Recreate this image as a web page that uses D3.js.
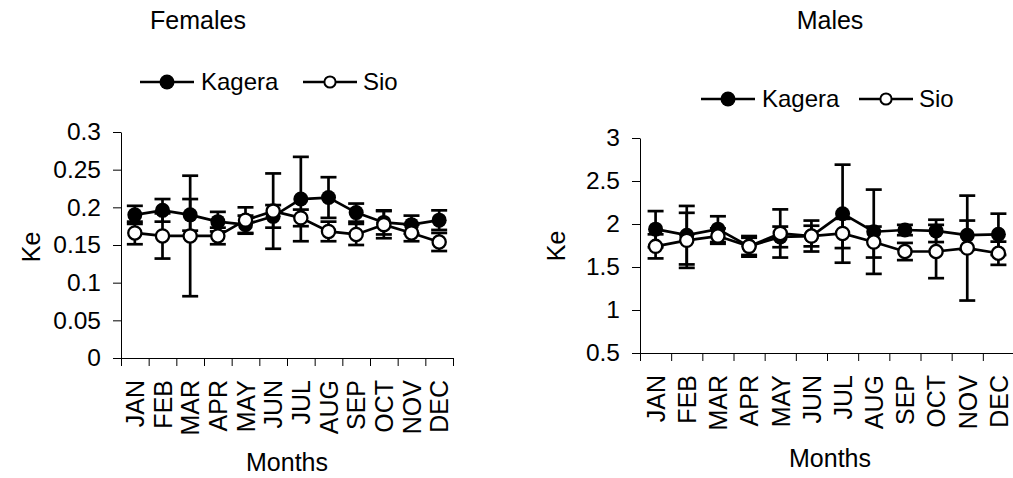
<!DOCTYPE html>
<html>
<head>
<meta charset="utf-8">
<script src="https://cdn.jsdelivr.net/npm/d3@7"></script>
<style>
  html, body { margin: 0; padding: 0; background: #fff; }
  svg { display: block; font-family: "Liberation Sans", Arial, sans-serif; }
</style>
</head>
<body>
<svg id="chart" width="1013" height="478"></svg>
<script>
const months = ["JAN","FEB","MAR","APR","MAY","JUN","JUL","AUG","SEP","OCT","NOV","DEC"];
const seriesNames = ["Kagera","Sio"];

const femKagera    = [0.190,0.196,0.190,0.181,0.177,0.188,0.211,0.213,0.193,0.180,0.177,0.183];
const femKageraErr = [0.012,0.015,0.021,0.013,0.012,0.015,0.056,0.027,0.012,0.016,0.012,0.013];
const femSio       = [0.166,0.162,0.162,0.162,0.183,0.195,0.186,0.168,0.164,0.177,0.166,0.154];
const femSioErr    = [0.015,0.030,0.080,0.011,0.017,0.050,0.011,0.013,0.014,0.018,0.011,0.012];
const femTicks     = [0, 0.05, 0.1, 0.15, 0.2, 0.25, 0.3];

const maleKagera    = [1.94,1.87,1.94,1.74,1.85,1.86,2.12,1.91,1.93,1.92,1.87,1.88];
const maleKageraErr = [0.21,0.34,0.15,0.12,0.12,0.18,0.57,0.49,0.06,0.13,0.17,0.24];
const maleSio       = [1.74,1.81,1.86,1.74,1.89,1.86,1.89,1.79,1.68,1.68,1.72,1.66];
const maleSioErr    = [0.14,0.32,0.09,0.10,0.28,0.12,0.17,0.18,0.10,0.31,0.61,0.135];
const maleTicks     = [0.5, 1, 1.5, 2, 2.5, 3];

const svg = d3.select("#chart");
const FS = 24;
const FS_TITLE = 25;
const FS_MONTH = 25;

function drawPanel(cfg) {
  const g = svg.append("g");
  const x = d3.scaleBand().domain(months).range([cfg.x0, cfg.x1]);
  const xEdge = d3.scaleLinear().domain([0, months.length]).range([cfg.x0, cfg.x1]);
  const y = d3.scaleLinear().domain([cfg.ticks[0], cfg.ticks[cfg.ticks.length-1]]).range([cfg.yBottom, cfg.yTop]);

  const yAx = g.append("g").attr("transform", `translate(${cfg.x0},0)`)
    .call(d3.axisLeft(y).tickValues(cfg.ticks).tickFormat(d => String(d)).tickSize(8).tickPadding(12).tickSizeOuter(0));
  yAx.selectAll("text").style("font-size", "24.5px").attr("fill", "#000");
  yAx.selectAll("line, path").attr("stroke", "#000");

  const xAx = g.append("g").attr("transform", `translate(0,${cfg.yBottom})`)
    .call(d3.axisBottom(xEdge).tickValues(d3.range(months.length + 1)).tickFormat("").tickSize(8).tickSizeOuter(0));
  xAx.selectAll("line, path").attr("stroke", "#000");

  g.selectAll("text.month").data(months).join("text")
    .attr("class", "month")
    .attr("transform", d => `translate(${x(d) + x.bandwidth()/2 + 0.5},${cfg.yBottom + 22}) rotate(-90)`)
    .attr("text-anchor", "end")
    .attr("dy", "0.35em")
    .style("font-size", FS_MONTH + "px")
    .text(d => d);

  g.append("text").attr("x", cfg.monthsX).attr("y", cfg.monthsY).attr("text-anchor", "middle")
    .style("font-size", FS_TITLE + "px").text("Months");
  g.append("text").attr("transform", `translate(${cfg.keX},${cfg.keY}) rotate(-90)`)
    .attr("text-anchor", "middle").attr("dy", "0.35em").style("font-size", FS_TITLE + "px").text("Ke");
  g.append("text").attr("x", cfg.titleX).attr("y", cfg.titleY).attr("text-anchor", "middle")
    .style("font-size", FS_TITLE + "px").text(cfg.title);

  const cx = i => x(months[i]) + x.bandwidth()/2;
  const series = [
    { vals: cfg.kag, err: cfg.kagErr, fill: "#000" },
    { vals: cfg.sio, err: cfg.sioErr, fill: "#fff" }
  ];
  const cap = 8;
  series.forEach(s => {
    const sg = g.append("g");
    const idx = d3.range(s.vals.length);
    sg.selectAll("line.eb").data(idx).join("line")
      .attr("x1", i => cx(i)).attr("x2", i => cx(i))
      .attr("y1", i => y(s.vals[i] + s.err[i])).attr("y2", i => y(s.vals[i] - s.err[i]))
      .attr("stroke", "#000").attr("stroke-width", 2.7);
    sg.selectAll("line.capT").data(idx).join("line")
      .attr("x1", i => cx(i) - cap).attr("x2", i => cx(i) + cap)
      .attr("y1", i => y(s.vals[i] + s.err[i])).attr("y2", i => y(s.vals[i] + s.err[i]))
      .attr("stroke", "#000").attr("stroke-width", 2.7);
    sg.selectAll("line.capB").data(idx).join("line")
      .attr("x1", i => cx(i) - cap).attr("x2", i => cx(i) + cap)
      .attr("y1", i => y(s.vals[i] - s.err[i])).attr("y2", i => y(s.vals[i] - s.err[i]))
      .attr("stroke", "#000").attr("stroke-width", 2.7);
    sg.append("path").datum(s.vals)
      .attr("d", d3.line().x((d, i) => cx(i)).y(d => y(d)))
      .attr("fill", "none").attr("stroke", "#000").attr("stroke-width", 2.7);
    sg.selectAll("circle").data(s.vals).join("circle")
      .attr("cx", (d, i) => cx(i)).attr("cy", d => y(d))
      .attr("r", s.fill === "#000" ? 7.5 : 6.6)
      .attr("fill", s.fill).attr("stroke", "#000").attr("stroke-width", s.fill === "#000" ? 0 : 2.3);
  });

  const lg = g.append("g");
  cfg.legend.forEach((L, k) => {
    lg.append("line").attr("x1", L.x1).attr("x2", L.x2).attr("y1", cfg.legY).attr("y2", cfg.legY)
      .attr("stroke", "#000").attr("stroke-width", 2.4);
    lg.append("circle").attr("cx", (L.x1 + L.x2)/2).attr("cy", cfg.legY)
      .attr("r", k === 0 ? 7.5 : 5.6)
      .attr("fill", k === 0 ? "#000" : "#fff").attr("stroke", "#000").attr("stroke-width", k === 0 ? 0 : 2);
    lg.append("text").attr("x", L.tx).attr("y", cfg.legY).attr("dy", "0.35em")
      .style("font-size", FS + "px").text(seriesNames[k]);
  });
}

drawPanel({
  title: "Females", titleX: 198, titleY: 29,
  x0: 121, x1: 453, yBottom: 358, yTop: 132, ticks: femTicks,
  kag: femKagera, kagErr: femKageraErr, sio: femSio, sioErr: femSioErr,
  monthsX: 287, monthsY: 471, keX: 31, keY: 247,
  legY: 82,
  legend: [ { x1: 140, x2: 194, tx: 201 }, { x1: 303, x2: 357, tx: 363 } ]
});

drawPanel({
  title: "Males", titleX: 830, titleY: 29,
  x0: 640, x1: 1014, yBottom: 353, yTop: 138, ticks: maleTicks,
  kag: maleKagera, kagErr: maleKageraErr, sio: maleSio, sioErr: maleSioErr,
  monthsX: 830, monthsY: 467, keX: 556, keY: 246,
  legY: 99,
  legend: [ { x1: 701, x2: 755, tx: 762 }, { x1: 859, x2: 913, tx: 919 } ]
});
</script>
</body>
</html>
